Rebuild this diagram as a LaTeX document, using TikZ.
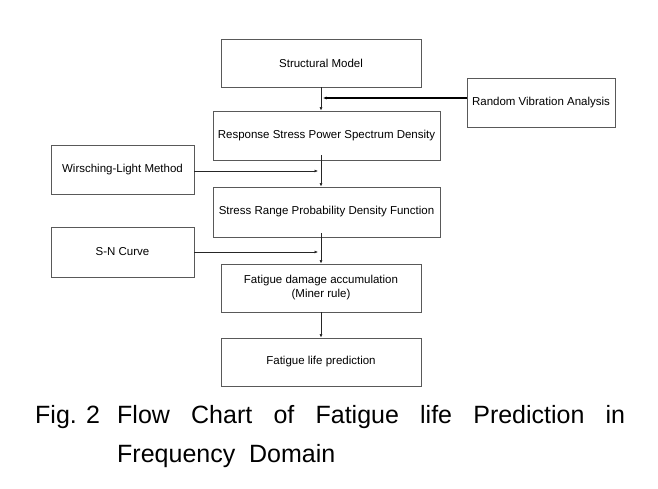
\documentclass[tikz,border=0pt]{standalone}
\usepackage{fontspec}
\setmainfont{Liberation Sans}
\usetikzlibrary{arrows.meta}
\begin{document}
\begin{tikzpicture}[x=1pt,y=-1pt,
  box/.style={draw=black!65,line width=0.8pt,inner sep=0pt,font=\fontsize{11.5}{14}\selectfont,align=center},
  arr/.style={draw=black!85,line width=0.6pt,-{Latex[length=3.5pt,width=3pt]}},
  thickarr/.style={draw=black,line width=1.2pt,-{Latex[length=3.5pt,width=3pt]}},
  captxt/.style={anchor=base west,inner sep=0pt,font=\fontsize{25}{30}\selectfont}]
\useasboundingbox (0,0) rectangle (658,489);
\node[box,minimum width=200,minimum height=48] (sm) at (321,63) {Structural Model};
\node[box,minimum width=148,minimum height=49] (rva) at (541,102.5) {Random Vibration Analysis};
\node[box,minimum width=227,minimum height=49] (rsp) at (326.5,135.5) {Response Stress Power Spectrum Density};
\node[box,minimum width=143,minimum height=49] (wl) at (122.5,169.5) {Wirsching-Light Method};
\node[box,minimum width=227,minimum height=50] (srp) at (326.5,212) {Stress Range Probability Density Function};
\node[box,minimum width=143,minimum height=50] (sn) at (122.5,252) {S-N Curve};
\node[box,minimum width=200,minimum height=48] (fda) at (321,288) {Fatigue damage accumulation\\(Miner rule)};
\node[box,minimum width=200,minimum height=48] (flp) at (321,362) {Fatigue life prediction};
\coordinate (j1) at (323,98);
\coordinate (j2) at (318,171);
\coordinate (j3) at (318,252);
\draw[arr] (sm.south) -- (sm.south |- rsp.north);
\draw[thickarr] (rva.west |- j1) -- (j1);
\draw[arr] ([yshift=5]sm.south |- rsp.south) -- (sm.south |- srp.north);
\draw[arr] (wl.east |- j2) -- (j2);
\draw[arr] ([yshift=4]sm.south |- srp.south) -- (fda.north);
\draw[arr] (sn.east |- j3) -- (j3);
\draw[arr] (fda.south) -- (flp.north);
\node[captxt] (cap0) at (35,423) {Fig. 2};
\node[captxt] (cap1) at (117,423) {\hbox to 508pt{Flow\hfill Chart\hfill of\hfill Fatigue\hfill life\hfill Prediction\hfill in}};
\node[captxt] (cap2) at (117,462) {Frequency\ \ Domain};
\end{tikzpicture}
\end{document}
